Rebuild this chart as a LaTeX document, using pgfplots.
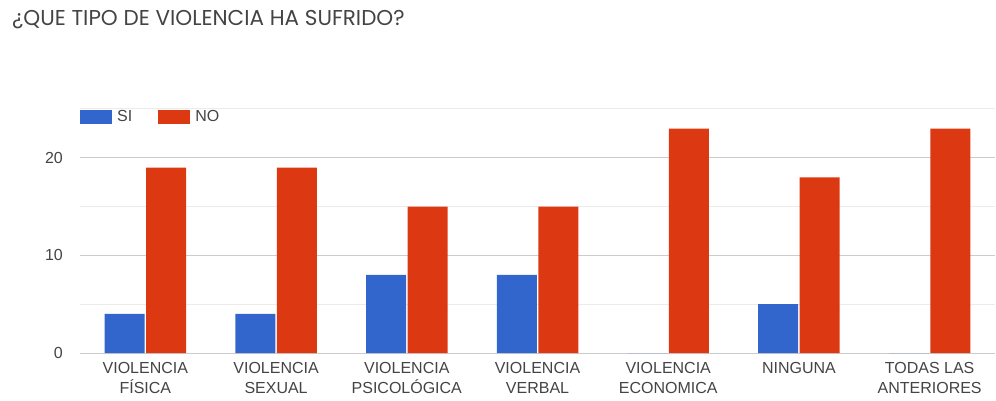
\documentclass[border=0pt]{standalone}
\usepackage{fontspec}
\setmainfont{Liberation Sans}
\newfontfamily\titlefont{Poppins}
\usepackage{pgfplots}
\pgfplotsset{compat=1.18}
\definecolor{siblue}{HTML}{3366CC}
\definecolor{nored}{HTML}{DC3912}
\definecolor{txt}{HTML}{444444}
\begin{document}
\begin{tikzpicture}
\path (-80bp,-48bp) rectangle (916bp,353bp);
\node[anchor=west, inner sep=0pt, text=txt] at (-68bp,333bp)
  {\titlefont\fontsize{21.5bp}{24bp}\selectfont ¿QUE TIPO DE VIOLENCIA HA SUFRIDO?};
\begin{axis}[
    scale only axis,
    width=915bp, height=244bp,
    ybar=1.5bp, bar width=40bp,
    xmin=-0.5, xmax=6.5,
    ymin=0, ymax=25,
    xtick={0,1,2,3,4,5,6},
    xticklabels={VIOLENCIA\\FÍSICA, VIOLENCIA\\SEXUAL, VIOLENCIA\\PSICOLÓGICA,
                 VIOLENCIA\\VERBAL, VIOLENCIA\\ECONOMICA, NINGUNA, TODAS LAS\\ANTERIORES},
    ytick={10,20},
    minor ytick={5,15,25},
    extra y ticks={0},
    extra y tick style={grid style={draw=black!70, line width=1pt}},
    ymajorgrids, yminorgrids,
    major grid style={draw=black!20, line width=1pt},
    minor grid style={draw=black!8, line width=1pt},
    axis line style={draw=none},
    major tick length=0pt, minor tick length=0pt,
    /pgf/number format/assume math mode=true,
    tick label style={font=\fontsize{16bp}{20bp}\selectfont, text=txt, inner sep=0pt},
    xticklabel style={align=center, anchor=north, yshift=-9bp},
    yticklabel style={anchor=east, xshift=-17bp},
    legend style={at={(0,0.967)}, anchor=west, draw=none, fill=none,
        font=\fontsize{16bp}{20bp}\selectfont, text=txt, inner sep=0pt,
        legend columns=2,
        /tikz/every odd column/.append style={column sep=3bp},
        /tikz/every even column/.append style={column sep=24bp}},
    legend image code/.code={\fill[#1] (0bp,-7bp) rectangle (32bp,7bp);},
]
\addplot[fill=siblue, draw=none] coordinates {(0,4)(1,4)(2,8)(3,8)(4,0)(5,5)(6,0)};
\addplot[fill=nored, draw=none] coordinates {(0,19)(1,19)(2,15)(3,15)(4,23)(5,18)(6,23)};
\legend{SI, NO}
\end{axis}
\end{tikzpicture}
\end{document}
